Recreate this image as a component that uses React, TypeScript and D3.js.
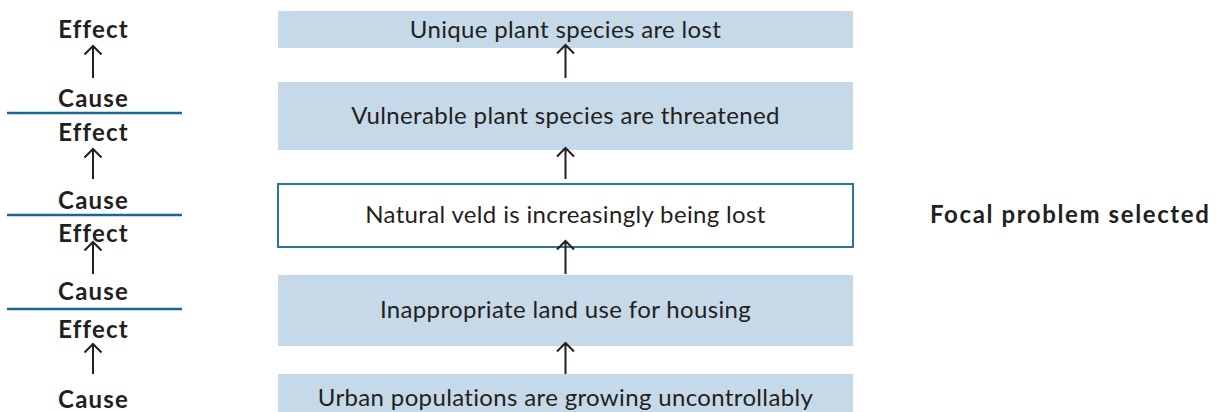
import React from 'react';
import * as d3 from 'd3';

// problem tree, read top (effect) to bottom (cause)
const boxLabels = [
  'Unique plant species are lost',
  'Vulnerable plant species are threatened',
  'Natural veld is increasingly being lost',
  'Inappropriate land use for housing',
  'Urban populations are growing uncontrollably',
];
const focalIndex = 2;
const focalLabel = 'Focal problem selected';
const effectLabel = 'Effect';
const causeLabel = 'Cause';

const width = 1224;
const height = 412;

// layout of the rows
const boxTops = [11, 82, 184, 275, 374];
const boxBottoms = [48, 150, 247, 346, 420];
const boxTextY = [30, 116, 215, 310, 398];
const arrowTips = [45, 148, 241, 343];
const arrowTails = [78, 179, 274, 374];
const effectY = [38, 141, 242, 338];
const causeY = [107, 209, 300, 408];
const dividerY = [113, 215, 309];

const boxX = d3.scaleLinear().domain([0, 1]).range([278, 853]);
const leftX = 93;

const ink = '#231f20';
const boxFill = '#c6d9e8';
const accent = '#1d6592';
const font = 'Lato, "Open Sans", sans-serif';

const arrowPath = (x: number, tip: number, tail: number) => {
  const p = d3.path();
  p.moveTo(x, tail);
  p.lineTo(x, tip);
  p.moveTo(x - 8.5, tip + 8.5);
  p.lineTo(x, tip);
  p.lineTo(x + 8.5, tip + 8.5);
  return p.toString();
};

export default function App() {
  const cx = boxX(0.5);

  return (
    <svg width={width} height={height} style={{ position: 'absolute', left: 0, top: 0 }}>
      <rect width={width} height={height} fill="#fff" />
      {boxLabels.map((label, i) => {
        const y0 = boxTops[i];
        const y1 = Math.min(boxBottoms[i], height);
        const focal = i === focalIndex;
        return (
          <g key={label}>
            <rect
              x={boxX(0)}
              y={y0}
              width={boxX(1) - boxX(0)}
              height={y1 - y0}
              fill={focal ? '#fff' : boxFill}
              stroke={focal ? '#2b73a0' : 'none'}
              strokeWidth={2}
            />
            <text
              x={cx}
              y={boxTextY[i]}
              dy="0.35em"
              textAnchor="middle"
              fontFamily={font}
              fontSize={24}
              letterSpacing={0.35}
              fill={ink}
            >
              {label}
            </text>
          </g>
        );
      })}
      {arrowTips.map((tip, i) => (
        <g key={i} fill="none" stroke={ink} strokeWidth={2}>
          <path d={arrowPath(cx, tip, arrowTails[i])} />
          <path d={arrowPath(leftX, tip + 1, arrowTails[i])} />
        </g>
      ))}
      {/* Effect / Cause labels on the left */}
      <g fontFamily={font} fontWeight={700} fontSize={24} letterSpacing={1.2} fill={ink} textAnchor="middle">
        {effectY.map((y, i) => (
          <text key={'e' + i} x={leftX + 0.6} y={y}>{effectLabel}</text>
        ))}
        {causeY.map((y, i) => (
          <text key={'c' + i} x={leftX + 0.6} y={y}>{causeLabel}</text>
        ))}
      </g>
      {dividerY.map((y, i) => (
        <line key={'div' + i} x1={7} x2={182} y1={y} y2={y} stroke={accent} strokeWidth={2.5} />
      ))}
      <text
        x={930}
        y={boxTextY[focalIndex]}
        dy="0.35em"
        fontFamily={font}
        fontWeight={700}
        fontSize={24}
        letterSpacing={1.6}
        fill={ink}
      >
        {focalLabel}
      </text>
    </svg>
  );
}
